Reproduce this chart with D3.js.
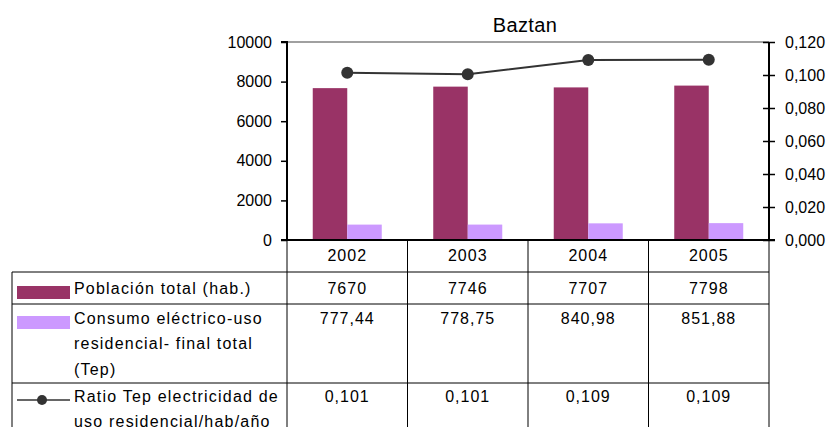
<!DOCTYPE html>
<html><head><meta charset="utf-8">
<script src="https://cdn.jsdelivr.net/npm/d3@7"></script>
<style>body{margin:0;background:#fff}svg{display:block;font-family:"Liberation Sans",Arial,sans-serif}</style>
</head><body>
<svg id="c" width="831" height="427"></svg>
<script>
const title = "Baztan";
const years = ["2002","2003","2004","2005"];
const poblacion = [7670, 7746, 7707, 7798];
const consumo = [777.44, 778.75, 840.98, 851.88];
const ratio = [0.1014, 0.1005, 0.1091, 0.1092];
const poblacionLbl = ["7670","7746","7707","7798"];
const consumoLbl = ["777,44","778,75","840,98","851,88"];
const ratioLbl = ["0,101","0,101","0,109","0,109"];
const leftTicks = [0,2000,4000,6000,8000,10000];
const rightTicks = [0,0.02,0.04,0.06,0.08,0.10,0.12];
const seriesNames = [["Población total (hab.)"],["Consumo eléctrico-uso","residencial- final total","(Tep)"],["Ratio Tep electricidad de","uso residencial/hab/año"]];
const colors = {pob:"#993366", con:"#CC99FF", line:"#333333"};

const svg = d3.select("#c");
const L=287, R=769, T=42, B=240;
const x = d3.scaleBand().domain(years).range([L,R]);
const y = d3.scaleLinear().domain([0,10000]).range([B,T]);
const y2 = d3.scaleLinear().domain([0,0.12]).range([B,T]);
const bw = 34.5;

// top border
svg.append("line").attr("x1",L).attr("x2",R).attr("y1",T).attr("y2",T).attr("stroke","#808080").attr("stroke-width",1.5);

// bars
svg.selectAll(".b1").data(years).join("rect")
  .attr("x",d=>x(d)+x.bandwidth()/2-bw).attr("width",bw)
  .attr("y",(d,i)=>y(poblacion[i])).attr("height",(d,i)=>B-y(poblacion[i])).attr("fill",colors.pob);
svg.selectAll(".b2").data(years).join("rect")
  .attr("x",d=>x(d)+x.bandwidth()/2).attr("width",bw)
  .attr("y",(d,i)=>y(consumo[i])).attr("height",(d,i)=>B-y(consumo[i])).attr("fill",colors.con);

// left axis
const la = svg.append("g").attr("transform",`translate(${L},0)`)
  .call(d3.axisLeft(y).tickValues(leftTicks).tickSize(6).tickPadding(9).tickFormat(d3.format("d")));
la.select(".domain").attr("stroke","#000").attr("stroke-width",2).attr("d",`M-6,${T}H0V${B}H-6`);
la.selectAll(".tick line").attr("stroke","#000").attr("stroke-width",1.5);
la.selectAll("text").attr("font-size",16).attr("fill","#000").attr("font-family","Liberation Sans, Arial");

// right axis
const fmt = d => d3.format(".3f")(d).replace(".",",");
const ra = svg.append("g").attr("transform",`translate(${R},0)`)
  .call(d3.axisRight(y2).tickValues(rightTicks).tickSize(6).tickPadding(10).tickFormat(fmt));
ra.select(".domain").attr("stroke","#000").attr("stroke-width",2).attr("d",`M0,${T}V${B}`);
ra.selectAll(".tick line").attr("stroke","#000").attr("stroke-width",1.5).attr("x1",-6);
ra.selectAll("text").attr("font-size",16).attr("fill","#000").attr("font-family","Liberation Sans, Arial");

// x axis line
svg.append("line").attr("x1",L-6).attr("x2",R+6).attr("y1",B).attr("y2",B).attr("stroke","#000").attr("stroke-width",2);

// line series
const line = d3.line().x((d,i)=>x(years[i])+x.bandwidth()/2).y(d=>y2(d));
svg.append("path").datum(ratio).attr("d",line).attr("fill","none").attr("stroke",colors.line).attr("stroke-width",2);
svg.selectAll(".pt").data(ratio).join("circle")
  .attr("cx",(d,i)=>x(years[i])+x.bandwidth()/2).attr("cy",d=>y2(d)).attr("r",6).attr("fill",colors.line);

// title
svg.append("text").attr("x",525).attr("y",32).attr("text-anchor","middle").attr("font-size",20).attr("letter-spacing",0.4).attr("fill","#000").text(title);

// table
const TL=12;
const tg = svg.append("g").attr("stroke","#000").attr("stroke-width",1);
[272,304,383].forEach(yy=>tg.append("line").attr("x1",TL).attr("x2",R).attr("y1",yy).attr("y2",yy));
tg.append("line").attr("x1",TL).attr("x2",TL).attr("y1",272).attr("y2",427);
x.domain().forEach(d=>tg.append("line").attr("x1",x(d)).attr("x2",x(d)).attr("y1",B).attr("y2",427));
tg.append("line").attr("x1",R).attr("x2",R).attr("y1",B).attr("y2",427);

const tt = svg.append("g").attr("font-size",16).attr("letter-spacing",1).attr("text-anchor","middle").attr("fill","#000");
const cx = d=>x(d)+x.bandwidth()/2;
years.forEach((d,i)=>{
  tt.append("text").attr("x",cx(d)).attr("y",261).text(d);
  tt.append("text").attr("x",cx(d)).attr("y",294).text(poblacionLbl[i]);
  tt.append("text").attr("x",cx(d)).attr("y",324).text(consumoLbl[i]);
  tt.append("text").attr("x",cx(d)).attr("y",402).text(ratioLbl[i]);
});

// legend
svg.append("rect").attr("x",17).attr("y",286).attr("width",53).attr("height",13).attr("fill",colors.pob);
svg.append("rect").attr("x",17).attr("y",316).attr("width",53).attr("height",13).attr("fill",colors.con);
svg.append("line").attr("x1",17).attr("x2",70).attr("y1",400).attr("y2",400).attr("stroke",colors.line).attr("stroke-width",1.5);
svg.append("circle").attr("cx",42).attr("cy",400).attr("r",5).attr("fill",colors.line);
const lt = svg.append("g").attr("font-size",16).attr("letter-spacing",1.2).attr("fill","#000");
const baseY=[[294],[324,349,375],[402,427]];
seriesNames.forEach((lines,k)=>lines.forEach((s,j)=>lt.append("text").attr("x",74).attr("y",baseY[k][j]).text(s)));
</script>
</body></html>
